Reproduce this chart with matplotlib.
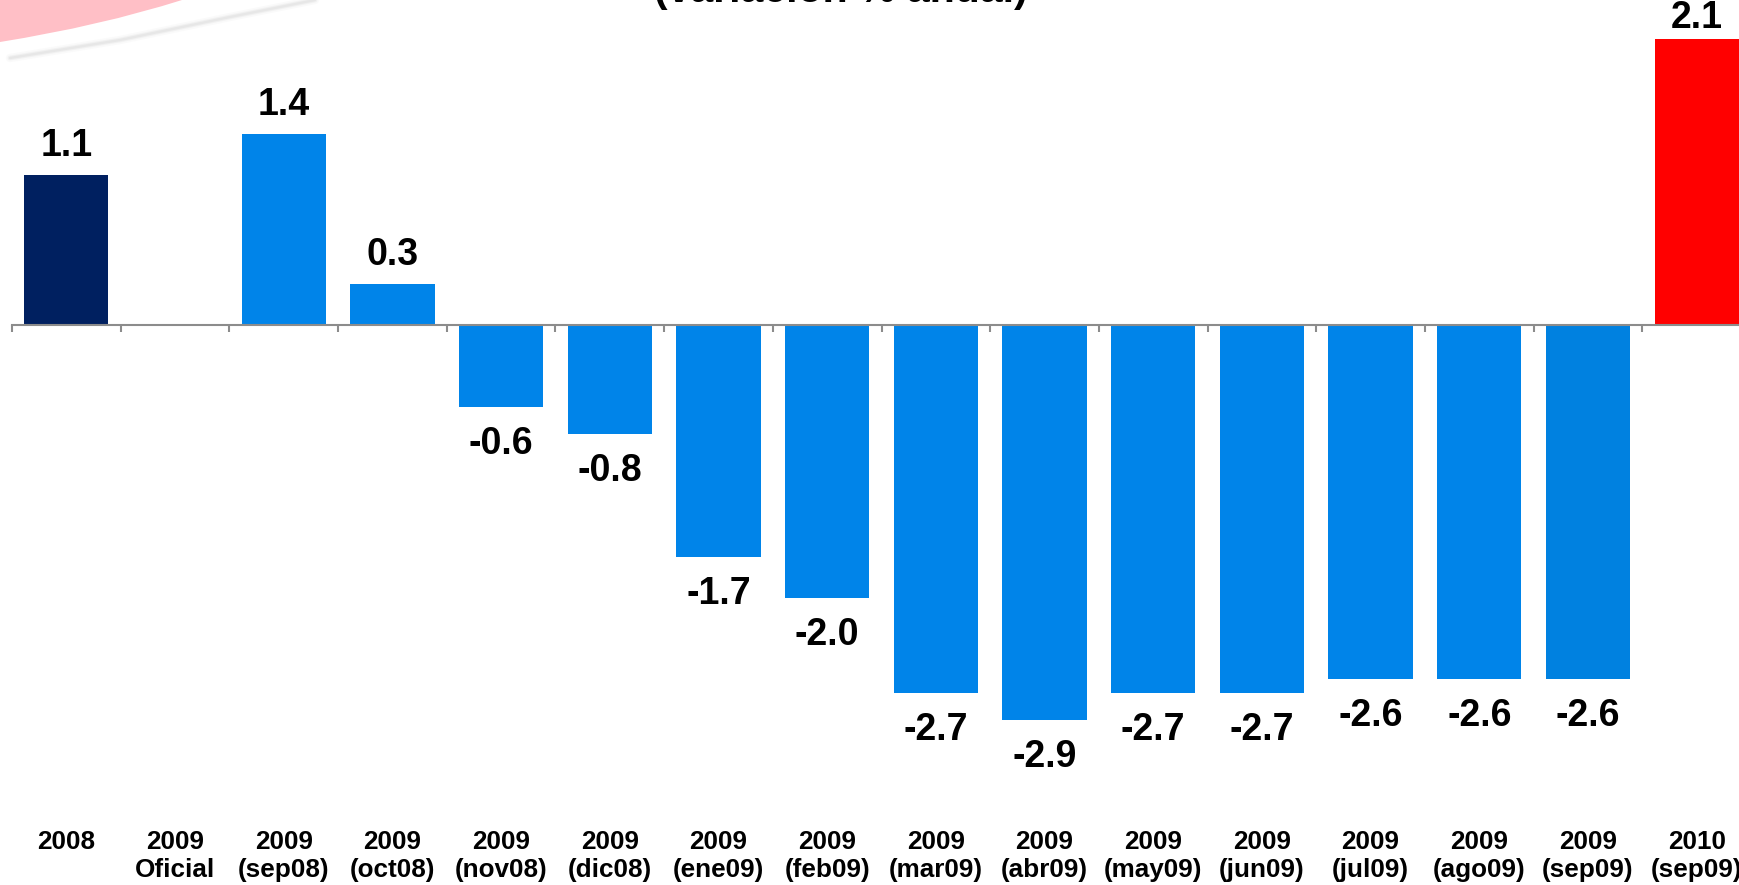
import matplotlib
matplotlib.use("Agg")
import matplotlib.pyplot as plt
from matplotlib.path import Path
from matplotlib.patches import PathPatch
import matplotlib.transforms as mtransforms

plt.rcParams['font.family'] = ['Liberation Sans', 'DejaVu Sans']

# Crecimiento del PIB: dato 2008, previsiones 2009 por fecha de consenso, y 2010
years = ["2008", "2009", "2009", "2009", "2009", "2009", "2009", "2009",
         "2009", "2009", "2009", "2009", "2009", "2009", "2009", "2010"]
sublabels = ["", "Oficial", "(sep08)", "(oct08)", "(nov08)", "(dic08)", "(ene09)",
             "(feb09)", "(mar09)", "(abr09)", "(may09)", "(jun09)", "(jul09)",
             "(ago09)", "(sep09)", "(sep09)"]
values = [1.1, None, 1.4, 0.3, -0.6, -0.8, -1.7, -2.0,
          -2.7, -2.9, -2.7, -2.7, -2.6, -2.6, -2.6, 2.1]
colors = ["#002060"] + ["#0084E9"] * 13 + ["#0081E0", "#FF0000"]

W, H = 1739, 885
fig = plt.figure(figsize=(W / 100, H / 100), dpi=100)

# decorative swoosh in the upper-left corner
deco = fig.add_axes([0, 0, 1, 1])
deco.set_xlim(0, W)
deco.set_ylim(H, 0)
deco.axis("off")
verts = [(0, 0), (182, 0), (100, 26), (0, 42), (0, 0)]
codes = [Path.MOVETO, Path.LINETO, Path.CURVE3, Path.CURVE3, Path.CLOSEPOLY]
deco.add_patch(PathPatch(Path(verts, codes), facecolor="#FFBFC6", edgecolor="none"))
for lw, a in [(6, 0.12), (3.5, 0.25), (1.8, 0.4)]:
    deco.plot([10, 120, 230, 315], [58, 40, 17, 0], color="#dadada", lw=lw,
              alpha=a, solid_capstyle="round")

ax = fig.add_axes([12 / W, 0, 1.0, 1.0])
ax.patch.set_alpha(0)
n = len(years)
ax.set_xlim(-0.5, n - 0.5)
zero_px = 325
ppu = 136.3
ax.set_ylim(-(H - zero_px) / ppu, zero_px / ppu)

xs = list(range(n))
ymax = ax.get_ylim()[1]
for x, v, c in zip(xs, values, colors):
    if v is None:
        continue
    ax.bar(x, v, width=0.775, color=c, zorder=2)
    if v >= 0:
        # keep the label inside the canvas for the tallest bar
        gap = min(19, (ymax - v) * ppu - 28)
        ax.annotate(f"{v:.1f}", (x, v), xytext=(0, gap * 0.72), textcoords="offset points",
                    ha="center", va="baseline", fontsize=27, fontweight="bold")
    else:
        ax.annotate(f"{v:.1f}", (x, v), xytext=(0, -47 * 0.72), textcoords="offset points",
                    ha="center", va="baseline", fontsize=27, fontweight="bold")

for s in ["top", "right", "left"]:
    ax.spines[s].set_visible(False)
ax.spines["bottom"].set_position(("data", 0))
ax.spines["bottom"].set_color("#8c8c8c")
ax.spines["bottom"].set_linewidth(1.5)
ax.spines["bottom"].set_zorder(3)
ax.set_yticks([])
ax.set_xticks([i - 0.5 for i in range(n + 1)])
ax.set_xticklabels([])
ax.tick_params(axis="x", direction="out", length=5, width=1.5, color="#8c8c8c")

trans = mtransforms.blended_transform_factory(ax.transData, ax.transAxes)
for x, y1, y2 in zip(xs, years, sublabels):
    ax.text(x, 1 - 849 / H, y1, transform=trans, ha="center", va="baseline",
            fontsize=18.8, fontweight="bold")
    if y2:
        ax.text(x, 1 - 877 / H, y2, transform=trans, ha="center", va="baseline",
                fontsize=18.8, fontweight="bold")

fig.text(841 / W, 1 - 2.5 / H, "(variación % anual)", ha="center", va="baseline",
         fontsize=29.5, fontweight="bold")

fig.savefig("out.png", dpi=100)
